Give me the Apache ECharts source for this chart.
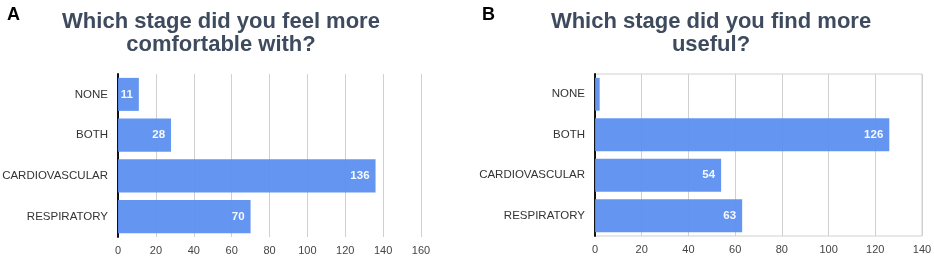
<!DOCTYPE html>
<html><head><meta charset="utf-8">
<script src="https://cdn.jsdelivr.net/npm/echarts@6/dist/echarts.min.js"></script>
<style>html,body{margin:0;padding:0;background:#fff}#c{width:934px;height:256px}</style>
</head><body><div id="c"></div>
<script>
const categories = ['NONE', 'BOTH', 'CARDIOVASCULAR', 'RESPIRATORY'];
const valuesA = [11, 28, 136, 70];
const valuesB = [2, 126, 54, 63];
const titleA = 'Which stage did you feel more\ncomfortable with?';
const titleB = 'Which stage did you find more\nuseful?';
const ticksA = {min: 0, max: 160, interval: 20};
const ticksB = {min: 0, max: 140, interval: 20};

const font = 'Liberation Sans, Arial, sans-serif';
const barColor = '#5b8ff0';
function mkData(vals) {
  return vals.map(v => v < 5 ? {value: v, label: {show: false}} : v);
}
const chart = echarts.init(document.getElementById('c'));
const titleStyle = {fontFamily: font, fontSize: 22, fontWeight: 'bold', color: '#3e4b5e', lineHeight: 23};
chart.setOption({
  animation: false,
  title: [
    {text: 'A', left: 2, top: 1, textStyle: {fontFamily: font, fontSize: 18, fontWeight: 'bold', color: '#000'}},
    {text: 'B', left: 477, top: 1, textStyle: {fontFamily: font, fontSize: 18, fontWeight: 'bold', color: '#000'}},
    {text: titleA, left: 216, top: 5, textAlign: 'center', textStyle: titleStyle},
    {text: titleB, left: 706, top: 5, textAlign: 'center', textStyle: titleStyle}
  ],
  grid: [
    {left: 118, right: 513, top: 74, height: 163, outerBoundsMode: 'none', containLabel: false},
    {left: 595, right: 12, top: 74, height: 162, outerBoundsMode: 'none', containLabel: false, show: true, borderColor: '#d0d0d0', borderWidth: 1}
  ],
  xAxis: [0, 1].map(i => Object.assign({
    type: 'value', gridIndex: i,
    axisLine: {show: false}, axisTick: {show: false},
    splitLine: {show: true, lineStyle: {color: '#d0d0d0', width: 1}},
    axisLabel: {fontFamily: font, fontSize: 11, color: '#444', margin: 8}
  }, i === 0 ? ticksA : ticksB)),
  yAxis: [0, 1].map(i => ({
    type: 'category', gridIndex: i, data: categories, inverse: true,
    axisLine: {show: true, lineStyle: {color: '#111', width: 2}},
    axisTick: {show: false},
    axisLabel: {fontFamily: font, fontSize: 11.5, color: '#333', margin: 10}
  })),
  series: [valuesA, valuesB].map((vals, i) => ({
    type: 'bar', xAxisIndex: i, yAxisIndex: i, data: mkData(vals),
    barCategoryGap: '19%',
    itemStyle: {color: barColor, opacity: 0.95},
    label: {show: true, position: 'insideRight', distance: 6, color: '#fff', fontFamily: font, fontSize: 11.5, fontWeight: 'bold'}
  }))
});
</script></body></html>
